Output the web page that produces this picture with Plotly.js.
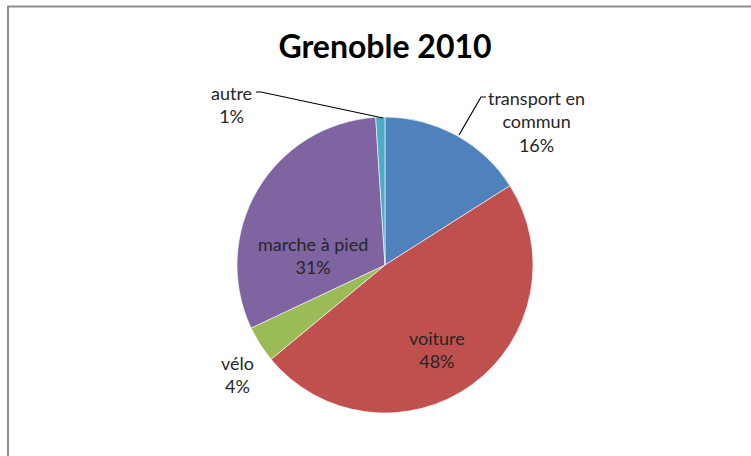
<!DOCTYPE html>
<html>
<head>
<meta charset="utf-8">
<script src="https://cdn.plot.ly/plotly-3.0.1.min.js"></script>
<style>html,body{margin:0;padding:0;background:#fff;}#chart{width:751px;height:456px;}</style>
</head>
<body>
<div id="chart"></div>
<script>
// Data
var chartTitle = 'Grenoble 2010';
var categories = ['transport en commun', 'voiture', 'vélo', 'marche à pied', 'autre'];
var labelLines = ['transport en<br>commun', 'voiture', 'vélo', 'marche à pied', 'autre'];
var percentages = [16, 48, 4, 31, 1];
var sliceColors = ['#4F81BD', '#C0504D', '#9BBB59', '#8064A2', '#4BACC6'];

// Label placement (pixels in the 751x456 figure)
var W = 751, H = 456;
var labelPos = [[536, 121], [437, 349], [237, 374], [313, 255], [232, 104]];
var px = function (x) { return x / W; };
var py = function (y) { return 1 - y / H; };

var trace = {
  type: 'pie',
  labels: categories,
  values: percentages,
  sort: false,
  direction: 'clockwise',
  rotation: 0,
  textinfo: 'none',
  hoverinfo: 'label+percent',
  marker: { colors: sliceColors, line: { color: '#ffffff', width: 0.6 } },
  domain: { x: [px(237), px(533)], y: [py(413), py(117)] },
  showlegend: false
};

var annotations = categories.map(function (c, i) {
  return {
    xref: 'paper', yref: 'paper',
    x: px(labelPos[i][0]), y: py(labelPos[i][1]),
    xanchor: 'center', yanchor: 'middle',
    text: labelLines[i] + '<br>' + percentages[i] + '%',
    showarrow: false,
    font: { family: 'Lato, "Open Sans", sans-serif', size: 18, color: '#262626' }
  };
});

var shapes = [
  { type: 'rect', xref: 'paper', yref: 'paper', x0: px(8), x1: 1.1, y0: -0.1, y1: py(6.5),
    line: { color: '#8f8f8f', width: 2 }, fillcolor: 'rgba(0,0,0,0)' },
  { type: 'path', xref: 'paper', yref: 'paper',
    path: 'M ' + px(256) + ',' + py(92) + ' L ' + px(261) + ',' + py(92) + ' L ' + px(383) + ',' + py(118),
    line: { color: '#000', width: 1.2 } },
  { type: 'path', xref: 'paper', yref: 'paper',
    path: 'M ' + px(486) + ',' + py(97) + ' L ' + px(481) + ',' + py(97) + ' L ' + px(459) + ',' + py(135),
    line: { color: '#000', width: 1.2 } }
];

var layout = {
  width: W, height: H,
  margin: { l: 0, r: 0, t: 0, b: 0 },
  paper_bgcolor: '#ffffff',
  title: {
    text: '<b>' + chartTitle + '</b>',
    x: px(385), xanchor: 'center', xref: 'paper',
    y: py(47), yanchor: 'middle', yref: 'paper',
    font: { family: 'Lato, "Open Sans", sans-serif', size: 32, color: '#000' }
  },
  annotations: annotations,
  shapes: shapes
};

Plotly.newPlot('chart', [trace], layout, { displayModeBar: false, staticPlot: true });
</script>
</body>
</html>
